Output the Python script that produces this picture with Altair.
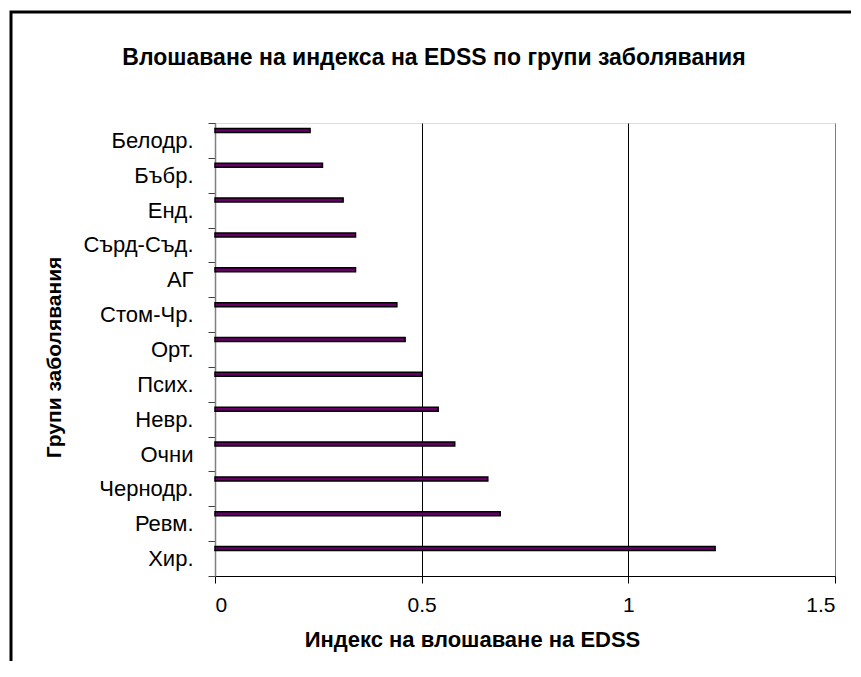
import altair as alt
import pandas as pd

categories = ["Белодр.", "Бъбр.", "Енд.", "Сърд-Съд.", "АГ", "Стом-Чр.", "Орт.",
              "Псих.", "Невр.", "Очни", "Чернодр.", "Ревм.", "Хир."]
values = [0.23, 0.26, 0.31, 0.34, 0.34, 0.44, 0.46, 0.50, 0.54, 0.58, 0.66, 0.69, 1.21]
x_ticks = [0, 0.5, 1, 1.5]

df = pd.DataFrame({"group": categories, "value": values})

FONT = "Liberation Sans"

bars = alt.Chart(df).mark_bar(
    size=4, yOffset=-10, fill="#660066", stroke="black", strokeWidth=1.5
).encode(
    x=alt.X("value:Q",
            scale=alt.Scale(domain=[0, 1.5], nice=False, zero=True),
            axis=alt.Axis(
                values=x_ticks, format="~g",
                title="Индекс на влошаване на EDSS",
                grid=True,
                gridColor={"condition": {"test": "datum.value === 1.5", "value": "#808080"}, "value": "black"},
                gridWidth=1,
                domainColor="black", domainWidth=1,
                tickColor="black", tickSize=7,
                labelFontSize=21, labelFont=FONT, labelColor="black",
                labelBaseline="middle", labelPadding=22,
                titleFontSize=22, titleFont=FONT, titleFontWeight="bold", titleColor="black",
                titleX=257, titleY=63, titleBaseline="middle", titleAnchor="middle", titleAlign="center",
            )),
    y=alt.Y("group:N", sort=categories,
            scale=alt.Scale(paddingInner=0, paddingOuter=0),
            axis=alt.Axis(
                title="Групи заболявания",
                grid=False, tickBand="extent",
                domainColor="#808080", domainWidth=1.5,
                tickColor="#404040", tickSize=7,
                labelFontSize=22, labelFont=FONT, labelColor="black",
                labelPadding=15,
                titleFontSize=21, titleFont=FONT, titleFontWeight="bold", titleColor="black",
                titleX=-161, titleY=234, titleAngle=-90, titleBaseline="middle",
                titleAlign="center", titleAnchor="middle",
            )),
)

frame = alt.Chart(alt.Data(values=[{"f": 1}])).mark_rect(
    fill=None, stroke="black", strokeWidth=3, clip=False
).encode(
    x=alt.value(-204), x2=alt.value(700),
    y=alt.value(-111), y2=alt.value(620),
)

chart = alt.layer(frame, bars).properties(
    width=620, height=453,
    title=alt.TitleParams(
        "Влошаване на индекса на EDSS по групи заболявания",
        font=FONT, fontSize=23, fontWeight="bold", color="black",
        anchor="middle", frame="group", dx=-91, offset=-77, baseline="alphabetic",
    ),
    autosize=alt.AutoSizeParams(type="none"),
    padding={"left": 207, "top": 115, "right": 16, "bottom": 85},
).configure_view(
    fill="#C0C0C0", stroke="#808080", strokeWidth=1.5
).configure(background="white")

chart.save("out.html", embed_options={"renderer": "svg", "actions": False})
